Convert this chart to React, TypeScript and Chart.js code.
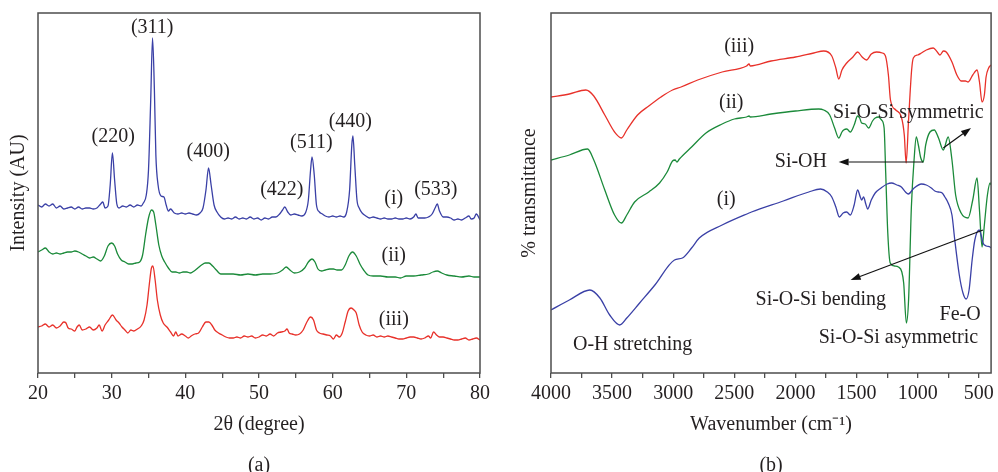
import React, { useEffect, useRef } from "react";
import { Chart, registerables } from "chart.js";

Chart.register(...registerables);

// ---------- XRD data (2θ in degrees, intensity in arbitrary units, curves offset) ----------
const xrdSampleI: [number, number][] = [
  [20.0,168],[20.5,166],[21.0,169],[21.5,167],[22.0,169],[22.5,165],[23.0,167],[23.5,164],[24.0,165],[24.5,166],
  [25.0,164],[25.5,166],[26.0,164],[26.5,165],[27.0,165],[27.5,164],[28.0,165],[28.5,169],[28.8,171],[29.1,165],
  [29.5,167],[29.8,188],[30.1,220],[30.4,193],[30.7,169],[31.0,165],[31.5,167],[32.0,166],[32.5,168],[33.0,166],
  [33.5,168],[34.0,167],[34.3,170],[34.7,178],[35.0,203],[35.3,273],[35.55,335],[35.8,283],[36.0,218],[36.3,188],
  [36.7,177],[37.1,176],[37.4,168],[37.7,162],[38.0,164],[38.5,160],[39.0,159],[39.5,160],[40.0,159],[40.5,160],
  [41.0,159],[41.5,158],[42.0,160],[42.4,165],[42.8,183],[43.15,205],[43.5,188],[43.9,168],[44.3,161],[44.8,156],
  [45.3,154],[45.8,155],[46.3,154],[46.8,156],[47.3,154],[47.8,155],[48.3,154],[48.8,156],[49.3,154],[49.8,155],
  [50.3,153],[50.8,155],[51.3,154],[51.8,156],[52.3,156],[52.8,159],[53.2,163],[53.5,166],[53.9,161],[54.3,158],
  [54.8,159],[55.3,158],[55.8,157],[56.3,160],[56.7,173],[57.0,203],[57.2,216],[57.5,198],[57.8,168],[58.2,161],
  [58.6,159],[59.0,157],[59.5,156],[60.0,157],[60.5,156],[61.0,157],[61.5,156],[61.9,161],[62.3,183],[62.6,228],
  [62.75,237],[63.0,208],[63.3,173],[63.6,165],[64.0,160],[64.5,157],[65.0,155],[65.5,156],[66.0,155],[66.5,154],
  [67.0,155],[67.5,154],[68.0,154],[68.5,155],[69.0,154],[69.5,154],[70.0,155],[70.5,154],[71.0,156],[71.3,159],
  [71.6,155],[72.0,155],[72.5,155],[73.0,156],[73.5,159],[73.9,165],[74.2,169],[74.5,162],[75.0,156],[75.5,156],
  [76.0,155],[76.5,153],[77.0,154],[77.5,153],[78.0,155],[78.5,157],[78.8,154],[79.2,155],[79.5,159],[80.0,153],
];

const xrdSampleII: [number, number][] = [
  [20.0,121],[20.5,123],[21.0,125],[21.5,121],[22.0,119],[22.5,120],[23.0,119],[23.5,120],[24.0,121],[24.5,121],
  [25.0,122],[25.5,121],[26.0,119],[26.5,117],[27.0,115],[27.5,116],[28.0,114],[28.5,112],[29.0,117],[29.5,127],
  [30.0,130],[30.4,127],[30.8,119],[31.3,113],[31.8,111],[32.3,109],[32.8,109],[33.3,110],[33.8,111],[34.2,118],
  [34.6,138],[35.0,155],[35.4,163],[35.7,161],[36.0,148],[36.4,128],[36.8,117],[37.2,111],[37.7,105],[38.2,101],
  [38.7,101],[39.2,100],[39.7,101],[40.2,101],[40.7,100],[41.2,102],[41.7,105],[42.2,108],[42.7,110],[43.2,110],
  [43.7,107],[44.2,103],[44.8,99],[45.5,99],[46.5,99],[47.5,98],[48.5,99],[49.5,98],[50.5,99],[51.5,99],
  [52.5,100],[53.2,103],[53.7,106],[54.2,103],[54.8,100],[55.5,101],[56.2,105],[56.7,111],[57.2,114],[57.6,111],
  [58.0,104],[58.5,102],[59.0,103],[59.6,104],[60.1,104],[60.6,103],[61.2,103],[61.7,108],[62.2,117],[62.7,121],
  [63.2,117],[63.7,109],[64.2,103],[64.8,98],[65.5,97],[66.5,97],[67.5,96],[68.5,96],[69.2,95],[70.0,97],
  [71.0,97],[72.0,98],[73.0,99],[73.6,101],[74.2,102],[74.8,100],[75.5,98],[76.5,97],[77.5,96],[78.5,97],
  [79.2,96],[80.0,96],
];

const xrdSampleIII: [number, number][] = [
  [20.0,46],[20.5,47],[21.0,49],[21.5,46],[22.0,48],[22.5,45],[23.0,47],[23.5,51],[23.8,50],[24.1,45],
  [24.5,44],[25.0,42],[25.3,46],[25.6,48],[26.0,43],[26.5,44],[27.0,46],[27.5,43],[28.0,45],[28.3,48],
  [28.7,42],[29.1,48],[29.6,53],[30.1,58],[30.6,53],[31.0,50],[31.4,46],[31.8,43],[32.2,40],[32.6,43],
  [33.0,42],[33.5,44],[34.0,47],[34.4,53],[34.8,68],[35.1,88],[35.4,105],[35.6,107],[35.9,93],[36.2,73],
  [36.6,58],[37.0,50],[37.5,46],[38.0,41],[38.4,37],[38.7,41],[39.0,37],[39.5,39],[40.0,37],[40.4,35],
  [40.8,37],[41.3,39],[41.8,40],[42.3,46],[42.8,51],[43.2,51],[43.6,48],[44.0,43],[44.5,40],[45.0,38],
  [45.5,36],[46.0,35],[46.5,35],[47.0,36],[47.5,35],[48.0,37],[48.5,36],[49.0,37],[49.5,35],[50.0,36],
  [50.5,38],[51.0,37],[51.5,39],[52.0,37],[52.5,40],[53.0,41],[53.5,42],[53.8,44],[54.1,40],[54.5,39],
  [55.0,38],[55.5,39],[56.0,43],[56.5,51],[57.0,56],[57.4,53],[57.8,43],[58.2,40],[58.7,39],[59.2,38],
  [59.7,37],[60.1,34],[60.5,38],[60.9,36],[61.3,40],[61.7,51],[62.1,62],[62.5,65],[62.9,63],[63.2,60],
  [63.6,48],[64.0,41],[64.5,38],[65.0,37],[65.5,38],[66.0,36],[66.5,37],[67.0,36],[67.5,37],[68.0,36],
  [68.5,35],[69.0,34],[69.5,34],[70.0,35],[70.5,36],[71.0,36],[71.5,35],[72.0,34],[72.5,35],[73.0,37],
  [73.3,35],[73.7,41],[74.1,38],[74.5,36],[75.0,36],[75.5,35],[76.0,34],[76.5,33],[77.0,33],[77.5,34],
  [78.0,35],[78.5,33],[79.0,34],[79.5,35],[80.0,33],
];

const xrdTicks = [20, 25, 30, 35, 40, 45, 50, 55, 60, 65, 70, 75, 80];
const xrdPeakLabels: [string, number, number][] = [
  ["(220)", 30.2, 236], ["(311)", 35.5, 345], ["(400)", 43.1, 221], ["(422)", 53.1, 183],
  ["(511)", 57.1, 230], ["(440)", 62.4, 251], ["(533)", 74.0, 183],
];
const xrdSeriesLabels: [string, number, number][] = [
  ["(i)", 68.3, 174], ["(ii)", 68.3, 117], ["(iii)", 68.3, 53],
];

// ---------- FTIR data (wavenumber in cm^-1, % transmittance offset) ----------
const ftirSampleI: [number, number][] = [
  [4000,63],[3850,73],[3682,83],[3600,75],[3520,58],[3438,48],[3380,55],[3275,70],[3150,88],[2990,113],
  [2925,115],[2850,125],[2787,135],[2600,148],[2380,160],[2360,161],[2100,172],[1891,181],[1795,184],[1740,181],
  [1703,176],[1670,166],[1641,156],[1610,160],[1581,161],[1552,158],[1520,168],[1492,183],[1470,176],[1459,173],
  [1443,176],[1425,169],[1410,164],[1380,173],[1348,180],[1300,185],[1250,189],[1215,190],[1170,188],[1134,186],
  [1100,181],[1077,179],[1030,185],[970,189],[930,188],[889,185],[860,182],[832,181],[800,180],[778,176],
  [751,170],[720,158],[697,133],[660,98],[630,80],[604,74],[580,83],[555,113],[533,133],[498,143],
  [480,137],[466,130],[440,127],[408,126],[400,125],
];

const ftirSampleII: [number, number][] = [
  [4000,213],[3850,218],[3701,224],[3650,213],[3560,183],[3480,158],[3424,150],[3380,158],[3316,171],[3200,181],
  [3112,190],[3050,201],[3006,212],[2985,213],[2970,211],[2950,214],[2850,226],[2732,240],[2600,249],[2500,254],
  [2400,256],[2380,257],[2370,256],[2200,259],[2000,262],[1810,264],[1769,263],[1720,258],[1680,245],[1646,235],
  [1620,241],[1606,243],[1580,244],[1552,241],[1520,248],[1492,257],[1475,255],[1459,250],[1430,249],[1402,245],
  [1370,252],[1348,255],[1320,256],[1296,253],[1275,245],[1262,200],[1245,140],[1225,110],[1190,107],[1158,106],
  [1130,101],[1115,90],[1093,50],[1075,73],[1052,166],[1030,213],[1012,236],[995,228],[975,215],[955,211],
  [935,228],[900,241],[865,243],[830,235],[791,223],[751,236],[720,213],[690,178],[645,160],[588,155],
  [550,173],[515,195],[495,163],[474,126],[455,148],[430,178],[408,190],[400,188],
];

const ftirSampleIII: [number, number][] = [
  [4000,276],[3850,279],[3715,283],[3650,277],[3560,258],[3480,241],[3424,235],[3380,243],[3292,258],[3200,267],
  [3100,276],[3006,283],[2936,286],[2800,293],[2600,301],[2400,307],[2380,309],[2370,307],[2200,312],[2000,316],
  [1850,320],[1769,322],[1703,317],[1670,305],[1646,294],[1620,303],[1581,310],[1530,316],[1492,321],[1455,316],
  [1419,313],[1380,319],[1337,321],[1290,320],[1264,317],[1240,298],[1223,273],[1180,263],[1134,256],[1110,238],
  [1095,210],[1075,253],[1050,303],[1036,315],[1000,318],[970,320],[930,323],[873,325],[840,321],[818,318],
  [790,322],[767,321],[720,311],[680,298],[645,292],[610,292],[588,291],[550,298],[515,303],[495,291],
  [474,271],[455,278],[441,296],[420,305],[400,308],
];

const ftirTicks = [4000, 3750, 3500, 3250, 3000, 2750, 2500, 2250, 2000, 1750, 1500, 1250, 1000, 750, 500];
const ftirLabels: [string, number, number, string][] = [
  ["(iii)", 2461, 326, "center"], ["(ii)", 2526, 270, "center"], ["(i)", 2567, 173, "center"],
  ["Si-O-Si symmetric", 1077, 260, "center"], ["Si-OH", 1956, 211, "center"],
  ["Si-O-Si bending", 1793, 73, "center"], ["Fe-O", 653, 58, "center"],
  ["Si-O-Si asymmetric", 1158, 35, "center"], ["O-H stretching", 3332, 28, "center"],
];
// arrows: [fromX, fromY, toX, toY] in data units (arrow head at "to")
const ftirArrows: [number, number, number, number][] = [
  [955, 211, 1647, 211],
  [791, 225, 564, 245],
  [466, 143, 1549, 93],
];

const BLUE = "#3a40a6";
const GREEN = "#1b8a3a";
const RED = "#e8312a";
const INK = "#231f20";
const AXIS = "#4d4d4d";
const SERIF = "'Liberation Serif', 'Times New Roman', serif";

const toXY = (arr: [number, number][]) => arr.map(([x, y]) => ({ x, y }));

function frameAndTextPlugin(opts: {
  labels: [string, number, number, string?][];
  labelSize: number;
  arrows?: [number, number, number, number][];
  xTitle: string;
  panel: string;
  yTitle: string;
  yTitleX: number;
}) {
  return {
    id: "frameText",
    afterDraw(chart: any) {
      const { ctx, chartArea } = chart;
      const xs = chart.scales.x;
      const ys = chart.scales.y;
      ctx.save();
      ctx.strokeStyle = AXIS;
      ctx.lineWidth = 1.5;
      ctx.strokeRect(chartArea.left, chartArea.top, chartArea.right - chartArea.left, chartArea.bottom - chartArea.top);
      ctx.fillStyle = INK;
      ctx.textBaseline = "middle";
      ctx.font = `${opts.labelSize}px ${SERIF}`;
      for (const [t, x, y, al] of opts.labels) {
        ctx.textAlign = (al as CanvasTextAlign) || "center";
        ctx.fillText(t, xs.getPixelForValue(x), ys.getPixelForValue(y));
      }
      if (opts.arrows) {
        ctx.strokeStyle = "#111";
        ctx.fillStyle = "#111";
        ctx.lineWidth = 1.2;
        for (const [x1, y1, x2, y2] of opts.arrows) {
          const p1x = xs.getPixelForValue(x1), p1y = ys.getPixelForValue(y1);
          const p2x = xs.getPixelForValue(x2), p2y = ys.getPixelForValue(y2);
          const ang = Math.atan2(p2y - p1y, p2x - p1x);
          const hl = 10, hw = 3.5;
          const bx = p2x - hl * Math.cos(ang), by = p2y - hl * Math.sin(ang);
          ctx.beginPath();
          ctx.moveTo(p1x, p1y);
          ctx.lineTo(bx, by);
          ctx.stroke();
          ctx.beginPath();
          ctx.moveTo(p2x, p2y);
          ctx.lineTo(bx + hw * Math.sin(ang), by - hw * Math.cos(ang));
          ctx.lineTo(bx - hw * Math.sin(ang), by + hw * Math.cos(ang));
          ctx.closePath();
          ctx.fill();
        }
      }
      ctx.fillStyle = INK;
      ctx.font = `20px ${SERIF}`;
      ctx.textAlign = "center";
      const cx = (chartArea.left + chartArea.right) / 2;
      ctx.fillText(opts.xTitle, cx, chartArea.bottom + 52);
      ctx.fillText(opts.panel, cx, chartArea.bottom + 93);
      ctx.save();
      ctx.translate(opts.yTitleX, (chartArea.top + chartArea.bottom) / 2);
      ctx.rotate(-Math.PI / 2);
      ctx.fillText(opts.yTitle, 0, 0);
      ctx.restore();
      ctx.restore();
    },
  };
}

function lineDs(data: [number, number][], color: string, w = 1.3) {
  return {
    data: toXY(data),
    borderColor: color,
    backgroundColor: color,
    borderWidth: w,
    pointRadius: 0,
    fill: false,
    cubicInterpolationMode: "monotone" as const,
  };
}

function XrdChart() {
  const ref = useRef<HTMLCanvasElement>(null);
  useEffect(() => {
    const chart = new Chart(ref.current!, {
      type: "line",
      data: {
        datasets: [
          lineDs(xrdSampleI, BLUE),
          lineDs(xrdSampleII, GREEN),
          lineDs(xrdSampleIII, RED),
        ],
      },
      options: {
        responsive: false,
        animation: false,
        devicePixelRatio: 1,
        layout: { padding: { left: 38, right: 20, top: 13, bottom: 0 } },
        plugins: { legend: { display: false }, tooltip: { enabled: false } },
        scales: {
          x: {
            type: "linear",
            min: 20,
            max: 80,
            afterFit: (s: any) => { s.height = 99; },
            afterBuildTicks: (s: any) => { s.ticks = xrdTicks.map((v) => ({ value: v })); },
            border: { display: false },
            grid: { drawOnChartArea: false, drawTicks: true, tickLength: 5, color: AXIS, lineWidth: 1.3 },
            ticks: {
              autoSkip: false,
              maxRotation: 0,
              padding: 4,
              color: INK,
              font: { family: SERIF, size: 20 },
              callback: (v: any) => (Number(v) % 10 === 0 ? String(v) : ""),
            },
          },
          y: { display: false, min: 0, max: 360 },
        },
      },
      plugins: [
        frameAndTextPlugin({
          labels: [...xrdPeakLabels, ...xrdSeriesLabels],
          labelSize: 20,
          xTitle: "2θ (degree)",
          panel: "(a)",
          yTitle: "Intensity (AU)",
          yTitleX: 19,
        }),
      ],
    });
    return () => chart.destroy();
  }, []);
  return <canvas ref={ref} width={500} height={472} style={{ position: "absolute", left: 0, top: 0 }} />;
}

function FtirChart() {
  const ref = useRef<HTMLCanvasElement>(null);
  useEffect(() => {
    const chart = new Chart(ref.current!, {
      type: "line",
      data: {
        datasets: [
          lineDs(ftirSampleI, BLUE),
          lineDs(ftirSampleII, GREEN),
          lineDs(ftirSampleIII, RED),
        ],
      },
      options: {
        responsive: false,
        animation: false,
        devicePixelRatio: 1,
        layout: { padding: { left: 51, right: 5, top: 13, bottom: 0 } },
        plugins: { legend: { display: false }, tooltip: { enabled: false } },
        scales: {
          x: {
            type: "linear",
            min: 400,
            max: 4000,
            reverse: true,
            afterFit: (s: any) => { s.height = 99; },
            afterBuildTicks: (s: any) => { s.ticks = ftirTicks.map((v) => ({ value: v })); },
            border: { display: false },
            grid: { drawOnChartArea: false, drawTicks: true, tickLength: 5, color: AXIS, lineWidth: 1.3 },
            ticks: {
              autoSkip: false,
              maxRotation: 0,
              padding: 4,
              color: INK,
              font: { family: SERIF, size: 20 },
              callback: (v: any) => (Number(v) % 500 === 0 ? String(v) : ""),
            },
          },
          y: { display: false, min: 0, max: 360 },
        },
      },
      plugins: [
        frameAndTextPlugin({
          labels: ftirLabels,
          labelSize: 20,
          arrows: ftirArrows,
          xTitle: "Wavenumber (cm\u207B\u00B9)",
          panel: "(b)",
          yTitle: "% transmittance",
          yTitleX: 30,
        }),
      ],
    });
    return () => chart.destroy();
  }, []);
  return <canvas ref={ref} width={498} height={472} style={{ position: "absolute", left: 500, top: 0 }} />;
}

export default function App() {
  return (
    <div style={{ position: "fixed", left: 0, top: 0, width: 998, height: 472, background: "#fff", overflow: "hidden" }}>
      <XrdChart />
      <FtirChart />
    </div>
  );
}
